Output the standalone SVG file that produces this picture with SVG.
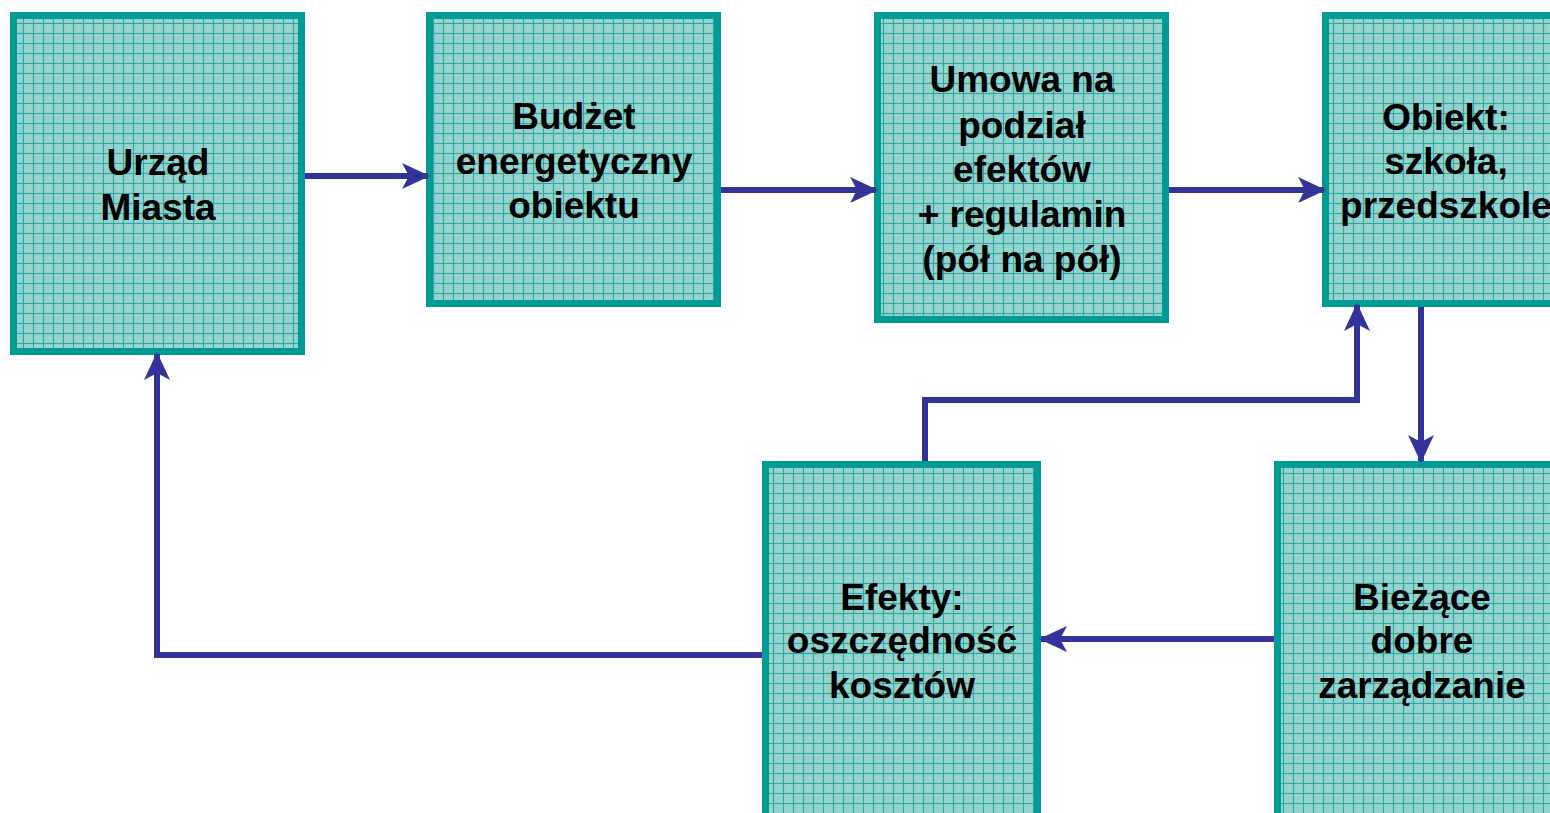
<svg xmlns="http://www.w3.org/2000/svg" width="1550" height="813" viewBox="0 0 1550 813">
<style>
.box{fill:url(#grid);stroke:#009b96;stroke-width:7}
.t{font-family:"Liberation Sans",Arial,sans-serif;font-weight:bold;font-size:37px;fill:#000;text-anchor:middle}
.c{fill:none;stroke:#333399;stroke-width:6}
</style>
<defs>
<pattern id="grid" patternUnits="userSpaceOnUse" width="10" height="10" x="3" y="3">
<rect width="10" height="10" fill="#8dd0cb"/>
<rect x="2" y="2" width="7" height="7" fill="#9ad6d1" opacity="0.6"/>
<path d="M0 0.5H10M0.5 0V10" stroke="#2fa7a1" stroke-width="1"/>
</pattern>
<marker id="ah" viewBox="0 0 28 26" refX="26" refY="13" markerWidth="28" markerHeight="26" markerUnits="userSpaceOnUse" orient="auto">
<path d="M0 0L28 13L0 26L7 13Z" fill="#333399"/>
</marker>
</defs>
<g id="n1"><rect class="box" x="13.5" y="15.5" width="288" height="336"/><text class="t" x="158" y="175">Urząd</text><text class="t" x="158" y="220">Miasta</text></g>
<g id="n2"><rect class="box" x="429.5" y="15.5" width="288" height="288"/><text class="t" x="574" y="129">Budżet</text><text class="t" x="574" y="174">energetyczny</text><text class="t" x="574" y="218">obiektu</text></g>
<g id="n3"><rect class="box" x="877.5" y="15.5" width="288" height="304"/><text class="t" x="1022" y="92">Umowa na</text><text class="t" x="1022" y="138">podział</text><text class="t" x="1022" y="182">efektów</text><text class="t" x="1022" y="227">+ regulamin</text><text class="t" x="1022" y="272">(pół na pół)</text></g>
<g id="n4"><rect class="box" x="1325.5" y="15.5" width="288" height="288"/><text class="t" x="1446" y="130">Obiekt:</text><text class="t" x="1446" y="174">szkoła,</text><text class="t" x="1446" y="218">przedszkole</text></g>
<g id="n5"><rect class="box" x="1277.5" y="464.5" width="288" height="400"/><text class="t" x="1422" y="610">Bieżące</text><text class="t" x="1422" y="653">dobre</text><text class="t" x="1422" y="698">zarządzanie</text></g>
<g id="n6"><rect class="box" x="765.5" y="464.5" width="272" height="400"/><text class="t" x="902" y="610">Efekty:</text><text class="t" x="902" y="653">oszczędność</text><text class="t" x="902" y="698">kosztów</text></g>
<g id="connectors">
<path class="c" d="M305 176H428" marker-end="url(#ah)"/>
<path class="c" d="M721 190H876" marker-end="url(#ah)"/>
<path class="c" d="M1169 190H1324" marker-end="url(#ah)"/>
<path class="c" d="M1421 307V461" marker-end="url(#ah)"/>
<path class="c" d="M1274 639H1041" marker-end="url(#ah)"/>
<path class="c" d="M925 461V400H1357V305" marker-end="url(#ah)"/>
<path class="c" d="M762 655H157V354" marker-end="url(#ah)"/>
</g>
</svg>
